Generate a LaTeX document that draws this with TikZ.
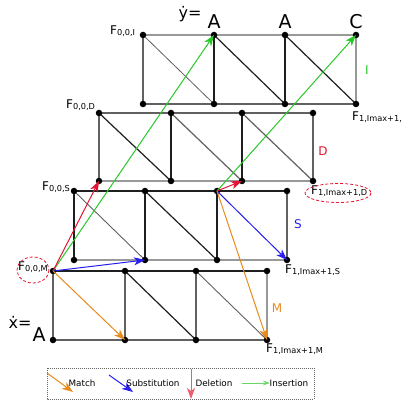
\documentclass[tikz,border=0pt]{standalone}
\usepackage{fontspec}
\setmainfont{DejaVu Sans}
\usetikzlibrary{arrows.meta}
\definecolor{cI}{RGB}{40,200,40}
\definecolor{cD}{RGB}{230,20,50}
\definecolor{cS}{RGB}{40,30,240}
\definecolor{cM}{RGB}{232,140,30}
\newcommand{\Flab}[1]{\fontsize{12}{13}\selectfont F{\fontsize{8.2}{9}\selectfont\raisebox{-1.5pt}{#1}}}
\begin{document}
\begin{tikzpicture}[x=1pt,y=-1pt,
  dot/.style={circle,fill=black,inner sep=0pt,minimum size=6.5pt},
  gl/.style={draw=black!40,line width=1.2pt},
  gm/.style={draw=black!62,line width=1.2pt},
  gd/.style={draw=black!88,line width=1.2pt},
  arr/.style={-{Stealth[length=11pt,width=8pt,inset=3pt]},line width=1pt},
  flab/.style={inner sep=0pt,anchor=west},
  big/.style={inner sep=0pt,font=\fontsize{19}{20}\selectfont},
  lay/.style={inner sep=0pt,font=\fontsize{12}{13}\selectfont},
  leg/.style={inner sep=0pt,font=\fontsize{8.8}{9}\selectfont},
  ell/.style={draw=cD,line width=0.8pt,dash pattern=on 3pt off 2pt}
]
\useasboundingbox (0,0) rectangle (402,401);
\fill[white] (0,0) rectangle (402,401);

% ---------- layer I ----------
\foreach \i/\x in {0/143,1/214,2/285,3/356}{
  \coordinate (It\i) at (\x,35);
  \coordinate (Ib\i) at (\x,104);
}
\draw[gl] (It0) -- (It3);
\draw[gm] (Ib0) -- (Ib3);
\draw[gm] (It0) -- (Ib0);
\draw[gm,line width=0.8pt] (It0) -- (Ib1);
\draw[gd] (It1) -- (Ib1);
\draw[gd] (It1) -- (Ib2);
\draw[gd] (It2) -- (Ib2);
\draw[gd] (It2) -- (Ib3);
\draw[gl] (It3) -- (Ib3);

% ---------- layer D ----------
\foreach \i/\x in {0/99,1/171,2/242,3/313}{
  \coordinate (Dt\i) at (\x,113);
  \coordinate (Db\i) at (\x,181);
}
\draw[gm] (Dt0) -- (Dt3);
\draw[gl,line width=1.5pt] (Db0) -- (Db3);
\draw[gm] (Dt0) -- (Db0);
\draw[gd] (Dt0) -- (Db1);
\draw[gd] (Dt1) -- (Db1);
\draw[gm] (Dt1) -- (Db2);
\draw[gd] (Dt2) -- (Db2);
\draw[gm] (Dt2) -- (Db3);
\draw[gm] (Dt3) -- (Db3);

% ---------- layer S ----------
\foreach \i/\x in {0/74,1/145,2/217,3/287}{
  \coordinate (St\i) at (\x,191);
  \coordinate (Sb\i) at (\x,260);
}
\draw[gd] (St0) -- (St3);
\draw[gl,line width=1.5pt] (Sb0) -- (Sb3);
\draw[gd] (St0) -- (Sb0);
\draw[gm,line width=0.9pt] (St0) -- (Sb1);
\draw[gd] (St1) -- (Sb1);
\draw[gd] (St1) -- (Sb2);
\draw[gd] (St2) -- (Sb2);
\draw[gm] (St3) -- (Sb3);

% ---------- layer M ----------
\foreach \i/\x in {0/53,1/125,2/196,3/267}{
  \coordinate (Mt\i) at (\x,271);
  \coordinate (Mb\i) at (\x,340);
}
\draw[gd] (Mt0) -- (Mt3);
\draw[gm] (Mb0) -- (Mb3);
\draw[gm] (Mt0) -- (Mb0);
\draw[gm] (Mt1) -- (Mb1);
\draw[gd] (Mt1) -- (Mb2);
\draw[gm] (Mt2) -- (Mb2);
\draw[gm,line width=0.9pt] (Mt2) -- (Mb3);
\draw[gl] (Mt3) -- (Mb3);

% ---------- dots ----------
\foreach \L in {I,D,S,M}{
  \foreach \i in {0,1,2,3}{
    \node[dot] at (\L t\i) {};
    \node[dot] at (\L b\i) {};
  }
}

% ---------- arrows ----------
\draw[arr,cI] (Mt0) -- (It1);
\draw[arr,cI] (St2) -- (It3);
\draw[arr,cD] (Mt0) -- (Db0);
\draw[arr,cD] (St2) -- (Db2);
\draw[arr,cS] (Mt0) -- (Sb1);
\draw[arr,cS] (St2) -- (Sb3);
\draw[arr,cM] (Mt0) -- (Mb1);
\draw[arr,cM] (St2) -- (Mb3);

% ---------- labels ----------
\node[big] (ylab) at (190,14) {\fontsize{16}{17}\selectfont ẏ=};
\node[big] (yA1) at (214,22) {A};
\node[big] (yA2) at (285,22) {A};
\node[big] (yC) at (356,22) {C};
\node[big] (xlab) at (20,322) {\fontsize{16}{17}\selectfont ẋ=};
\node[big] (xA) at (39,335) {A};

\node[flab] (F0I) at (110,31) {\Flab{0,0,I}};
\node[flab] (F0D) at (66,105) {\Flab{0,0,D}};
\node[flab] (F0S) at (42,187) {\Flab{0,0,S}};
\node[flab] (F0M) at (18,267) {\Flab{0,0,M}};
\node[flab] (F1I) at (352,117) {\Flab{1,Imax+1,}};
\node[flab] (F1D) at (311,191) {\Flab{1,Imax+1,D}};
\node[flab] (F1S) at (285,270) {\Flab{1,Imax+1,S}};
\node[flab] (F1M) at (266,349) {\Flab{1,Imax+1,M}};

\draw[ell] (33,270) ellipse [x radius=16,y radius=13];
\draw[ell] (338,193) ellipse [x radius=33,y radius=9.5];

\node[lay,text=cI] (lI) at (367,70) {I};
\node[lay,text=cD] (lD) at (323,151) {D};
\node[lay,text=cS] (lS) at (298,224) {S};
\node[lay,text=cM] (lM) at (277,308) {M};

% ---------- legend ----------
\draw[black!60,line width=0.6pt,dash pattern=on 1pt off 1pt] (47,368) rectangle (314,399);
\coordinate (mA) at (47,373); \coordinate (mB) at (73,392);
\coordinate (sA) at (109,375); \coordinate (sB) at (133,392);
\coordinate (dA) at (191,369); \coordinate (dB) at (191,399);
\coordinate (iA) at (242,383); \coordinate (iB) at (270,383);
\draw[arr,cM] (mA) -- (mB);
\draw[arr,cS] (sA) -- (sB);
\draw[arr,cD!70] (dA) -- (dB);
\draw[-{Stealth[length=7pt,width=4.5pt]},line width=0.7pt,cI!70] (iA) -- (iB);
\node[leg] (tm) at (82,383) {Match};
\node[leg] (ts) at (153,383) {Substitution};
\node[leg] (td) at (214,383) {Deletion};
\node[leg] (ti) at (289,383) {Insertion};
\end{tikzpicture}
\end{document}
